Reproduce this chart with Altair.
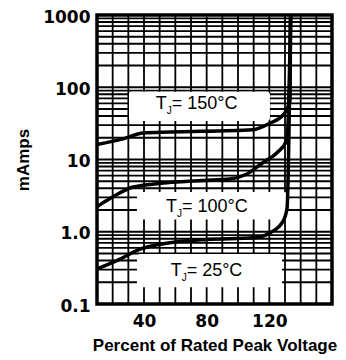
import altair as alt
import pandas as pd

# Curve data (percent of rated peak voltage, mA)
x_150 = [10, 26.6, 39.4, 56.6, 109.6, 120.4, 128.7, 133.2, 133.6]
y_150 = [16.1, 19.3, 23.3, 24.0, 25.8, 31.8, 41.0, 66.0, 1000]

x_100 = [10, 18.3, 33.0, 48.3, 77.7, 94.9, 105.7, 116.0, 124.9, 131.3, 133.6]
y_100 = [2.22, 2.88, 4.16, 4.61, 5.13, 5.39, 6.31, 9.1, 12.4, 18.9, 1000]

x_25 = [10, 24.7, 37.4, 56.6, 80.2, 109.6, 120.4, 128.7, 131.3, 133.6]
y_25 = [0.306, 0.419, 0.573, 0.705, 0.783, 0.824, 0.964, 1.39, 2.11, 1000]

series_names = ["150", "100", "25"]

# Axis labels
x_ticks = [40, 80, 120]
y_ticks = [0.1, 1, 10, 100, 1000]

# Label boxes (data units)
box_x1 = [30.4, 35.5, 35.5]
box_x2 = [120.4, 131.3, 128.1]
box_y1 = [86.9, 3.56, 0.494]
box_y2 = [34.0, 1.48, 0.170]

lab_x = [47.5, 54.0, 57.0]
lab_y = [57.8, 2.22, 0.29]
lab_rest = ["= 150°C", "= 100°C", "  = 25°C"]

rows = []
for name, xs, ys in zip(series_names, [x_150, x_100, x_25], [y_150, y_100, y_25]):
    for i, (a, b) in enumerate(zip(xs, ys)):
        rows.append({"series": name, "order": i, "x": a, "y": b})
df = pd.DataFrame(rows)

boxes = pd.DataFrame({"x": box_x1, "x2": box_x2, "y": box_y1, "y2": box_y2})
labels = pd.DataFrame({"x": lab_x, "y": lab_y, "t": ["T"] * 3, "j": ["J"] * 3,
                       "rest": lab_rest})

y_grid = sorted(set(round(k * 10 ** d, 6) for d in range(-1, 3) for k in range(1, 10))) + [1000]
x_grid = list(range(10, 161, 10))
xg = pd.DataFrame({"x": x_grid})
yg = pd.DataFrame({"y": y_grid})

xscale = alt.Scale(domain=[10, 160], nice=False)
yscale = alt.Scale(type="log", domain=[0.1, 1000], nice=False)

x_axis = alt.Axis(values=x_ticks, format="d", title="Percent of Rated Peak Voltage",
                  labelOverlap=False, grid=False)
y_axis = alt.Axis(values=y_ticks,
                  labelExpr="datum.value == 1 ? '1.0' : datum.value == 0.1 ? '0.1' : datum.label",
                  format="d", title="mAmps", labelOverlap=False, grid=False)


def X(field="x"):
    return alt.X(f"{field}:Q", scale=xscale, axis=x_axis)


def Y(field="y"):
    return alt.Y(f"{field}:Q", scale=yscale, axis=y_axis)


vgrid = alt.Chart(xg).mark_rule(color="black", strokeWidth=1.8).encode(x=X())
hgrid = alt.Chart(yg).mark_rule(color="black", strokeWidth=1.8).encode(y=Y())

rects = alt.Chart(boxes).mark_rect(fill="white", cornerRadius=3).encode(
    x=X(), x2="x2:Q", y=Y(), y2="y2:Q",
)

lines = alt.Chart(df).mark_line(color="black", strokeWidth=3.5, interpolate="monotone", clip=True).encode(
    x=X(), y=Y(), detail="series:N", order="order:Q",
)

font = "Liberation Sans"
t_text = alt.Chart(labels).mark_text(align="left", baseline="middle", font=font, fontSize=18, color="black").encode(
    x=X(), y=Y(), text="t:N")
j_text = alt.Chart(labels).mark_text(align="left", baseline="middle", font=font, fontSize=10, color="black", dx=11, dy=7).encode(
    x=X(), y=Y(), text="j:N")
r_text = alt.Chart(labels).mark_text(align="left", baseline="middle", font=font, fontSize=18, color="black", dx=16).encode(
    x=X(), y=Y(), text="rest:N")

chart = alt.layer(vgrid, hgrid, rects, lines, t_text, j_text, r_text).properties(
    width=235, height=289,
    padding={"left": 89, "top": 7, "right": 6, "bottom": 50},
    autosize=alt.AutoSizeParams(type="none"),
).configure_view(
    stroke="black", strokeWidth=3.5
).configure_axis(
    domain=False, ticks=False,
    labelFont="DejaVu Sans", labelFontWeight="bold", labelFontSize=17, labelColor="black",
    titleFont=font, titleFontWeight="bold", titleFontSize=17, titleColor="black",
).configure_axisX(
    labelPadding=9, titlePadding=8
).configure_axisY(
    labelPadding=7, titlePadding=10, labelOffset=2
)

chart.save("out.html", embed_options={"renderer": "svg", "actions": False})
